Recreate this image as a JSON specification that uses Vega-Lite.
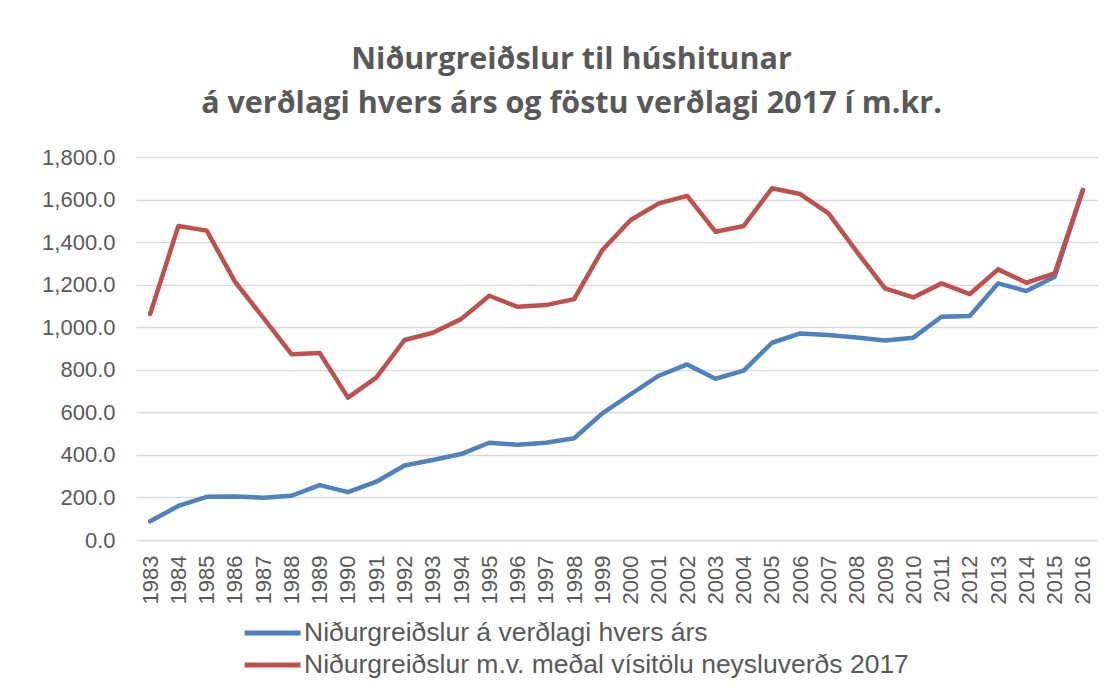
{
  "$schema": "https://vega.github.io/schema/vega-lite/v6.json",
  "autosize": {"type": "none"},
  "padding": {"left": 136, "top": 157, "right": 23, "bottom": 150},
  "width": 961,
  "height": 383,
  "background": "white",
  "title": {
    "text": ["Niðurgreiðslur til húshitunar", "á verðlagi hvers árs og föstu verðlagi 2017 í m.kr."],
    "font": "Open Sans",
    "fontSize": 30.5,
    "fontWeight": "bold",
    "color": "#595959",
    "lineHeight": 44,
    "anchor": "middle",
    "dx": -45,
    "offset": 27
  },
  "config": {
    "view": {"stroke": null},
    "axis": {"labelFont": "Liberation Sans", "labelColor": "#595959", "domain": false, "ticks": false}
  },
  "data": {"values": [
    {"year": "1983", "series": "Niðurgreiðslur á verðlagi hvers árs", "value": 88},
    {"year": "1984", "series": "Niðurgreiðslur á verðlagi hvers árs", "value": 160},
    {"year": "1985", "series": "Niðurgreiðslur á verðlagi hvers árs", "value": 203},
    {"year": "1986", "series": "Niðurgreiðslur á verðlagi hvers árs", "value": 205},
    {"year": "1987", "series": "Niðurgreiðslur á verðlagi hvers árs", "value": 199},
    {"year": "1988", "series": "Niðurgreiðslur á verðlagi hvers árs", "value": 208},
    {"year": "1989", "series": "Niðurgreiðslur á verðlagi hvers árs", "value": 258},
    {"year": "1990", "series": "Niðurgreiðslur á verðlagi hvers árs", "value": 225},
    {"year": "1991", "series": "Niðurgreiðslur á verðlagi hvers árs", "value": 274},
    {"year": "1992", "series": "Niðurgreiðslur á verðlagi hvers árs", "value": 350},
    {"year": "1993", "series": "Niðurgreiðslur á verðlagi hvers árs", "value": 376},
    {"year": "1994", "series": "Niðurgreiðslur á verðlagi hvers árs", "value": 404},
    {"year": "1995", "series": "Niðurgreiðslur á verðlagi hvers árs", "value": 457},
    {"year": "1996", "series": "Niðurgreiðslur á verðlagi hvers árs", "value": 448},
    {"year": "1997", "series": "Niðurgreiðslur á verðlagi hvers árs", "value": 457},
    {"year": "1998", "series": "Niðurgreiðslur á verðlagi hvers árs", "value": 478},
    {"year": "1999", "series": "Niðurgreiðslur á verðlagi hvers árs", "value": 595},
    {"year": "2000", "series": "Niðurgreiðslur á verðlagi hvers árs", "value": 685},
    {"year": "2001", "series": "Niðurgreiðslur á verðlagi hvers árs", "value": 772},
    {"year": "2002", "series": "Niðurgreiðslur á verðlagi hvers árs", "value": 825},
    {"year": "2003", "series": "Niðurgreiðslur á verðlagi hvers árs", "value": 758},
    {"year": "2004", "series": "Niðurgreiðslur á verðlagi hvers árs", "value": 796},
    {"year": "2005", "series": "Niðurgreiðslur á verðlagi hvers árs", "value": 927},
    {"year": "2006", "series": "Niðurgreiðslur á verðlagi hvers árs", "value": 971},
    {"year": "2007", "series": "Niðurgreiðslur á verðlagi hvers árs", "value": 963},
    {"year": "2008", "series": "Niðurgreiðslur á verðlagi hvers árs", "value": 952},
    {"year": "2009", "series": "Niðurgreiðslur á verðlagi hvers árs", "value": 938},
    {"year": "2010", "series": "Niðurgreiðslur á verðlagi hvers árs", "value": 951},
    {"year": "2011", "series": "Niðurgreiðslur á verðlagi hvers árs", "value": 1049},
    {"year": "2012", "series": "Niðurgreiðslur á verðlagi hvers árs", "value": 1053},
    {"year": "2013", "series": "Niðurgreiðslur á verðlagi hvers árs", "value": 1206},
    {"year": "2014", "series": "Niðurgreiðslur á verðlagi hvers árs", "value": 1170},
    {"year": "2015", "series": "Niðurgreiðslur á verðlagi hvers árs", "value": 1237},
    {"year": "2016", "series": "Niðurgreiðslur á verðlagi hvers árs", "value": 1645},
    {"year": "1983", "series": "Niðurgreiðslur m.v. meðal vísitölu neysluverðs 2017", "value": 1062},
    {"year": "1984", "series": "Niðurgreiðslur m.v. meðal vísitölu neysluverðs 2017", "value": 1476},
    {"year": "1985", "series": "Niðurgreiðslur m.v. meðal vísitölu neysluverðs 2017", "value": 1454},
    {"year": "1986", "series": "Niðurgreiðslur m.v. meðal vísitölu neysluverðs 2017", "value": 1214},
    {"year": "1987", "series": "Niðurgreiðslur m.v. meðal vísitölu neysluverðs 2017", "value": 1045},
    {"year": "1988", "series": "Niðurgreiðslur m.v. meðal vísitölu neysluverðs 2017", "value": 873},
    {"year": "1989", "series": "Niðurgreiðslur m.v. meðal vísitölu neysluverðs 2017", "value": 879},
    {"year": "1990", "series": "Niðurgreiðslur m.v. meðal vísitölu neysluverðs 2017", "value": 669},
    {"year": "1991", "series": "Niðurgreiðslur m.v. meðal vísitölu neysluverðs 2017", "value": 763},
    {"year": "1992", "series": "Niðurgreiðslur m.v. meðal vísitölu neysluverðs 2017", "value": 940},
    {"year": "1993", "series": "Niðurgreiðslur m.v. meðal vísitölu neysluverðs 2017", "value": 974},
    {"year": "1994", "series": "Niðurgreiðslur m.v. meðal vísitölu neysluverðs 2017", "value": 1038},
    {"year": "1995", "series": "Niðurgreiðslur m.v. meðal vísitölu neysluverðs 2017", "value": 1148},
    {"year": "1996", "series": "Niðurgreiðslur m.v. meðal vísitölu neysluverðs 2017", "value": 1096},
    {"year": "1997", "series": "Niðurgreiðslur m.v. meðal vísitölu neysluverðs 2017", "value": 1104},
    {"year": "1998", "series": "Niðurgreiðslur m.v. meðal vísitölu neysluverðs 2017", "value": 1132},
    {"year": "1999", "series": "Niðurgreiðslur m.v. meðal vísitölu neysluverðs 2017", "value": 1363},
    {"year": "2000", "series": "Niðurgreiðslur m.v. meðal vísitölu neysluverðs 2017", "value": 1504},
    {"year": "2001", "series": "Niðurgreiðslur m.v. meðal vísitölu neysluverðs 2017", "value": 1582},
    {"year": "2002", "series": "Niðurgreiðslur m.v. meðal vísitölu neysluverðs 2017", "value": 1617},
    {"year": "2003", "series": "Niðurgreiðslur m.v. meðal vísitölu neysluverðs 2017", "value": 1449},
    {"year": "2004", "series": "Niðurgreiðslur m.v. meðal vísitölu neysluverðs 2017", "value": 1476},
    {"year": "2005", "series": "Niðurgreiðslur m.v. meðal vísitölu neysluverðs 2017", "value": 1653},
    {"year": "2006", "series": "Niðurgreiðslur m.v. meðal vísitölu neysluverðs 2017", "value": 1626},
    {"year": "2007", "series": "Niðurgreiðslur m.v. meðal vísitölu neysluverðs 2017", "value": 1535},
    {"year": "2008", "series": "Niðurgreiðslur m.v. meðal vísitölu neysluverðs 2017", "value": 1355},
    {"year": "2009", "series": "Niðurgreiðslur m.v. meðal vísitölu neysluverðs 2017", "value": 1183},
    {"year": "2010", "series": "Niðurgreiðslur m.v. meðal vísitölu neysluverðs 2017", "value": 1140},
    {"year": "2011", "series": "Niðurgreiðslur m.v. meðal vísitölu neysluverðs 2017", "value": 1206},
    {"year": "2012", "series": "Niðurgreiðslur m.v. meðal vísitölu neysluverðs 2017", "value": 1156},
    {"year": "2013", "series": "Niðurgreiðslur m.v. meðal vísitölu neysluverðs 2017", "value": 1272},
    {"year": "2014", "series": "Niðurgreiðslur m.v. meðal vísitölu neysluverðs 2017", "value": 1209},
    {"year": "2015", "series": "Niðurgreiðslur m.v. meðal vísitölu neysluverðs 2017", "value": 1253},
    {"year": "2016", "series": "Niðurgreiðslur m.v. meðal vísitölu neysluverðs 2017", "value": 1645}
  ]},
  "mark": {"type": "line", "strokeWidth": 4.5, "strokeJoin": "round", "strokeCap": "round"},
  "encoding": {
    "x": {
      "field": "year", "type": "ordinal",
      "scale": {"type": "point", "padding": 0.5},
      "axis": {"title": null, "labelAngle": -90, "labelFontSize": 22, "labelPadding": 15, "grid": false, "labelAlign": "right", "labelBaseline": "middle"}
    },
    "y": {
      "field": "value", "type": "quantitative",
      "scale": {"domain": [0, 1800], "nice": false},
      "axis": {"title": null, "values": [0, 200, 400, 600, 800, 1000, 1200, 1400, 1600, 1800], "format": ",.1f", "labelFontSize": 22, "labelPadding": 21, "gridColor": "#d9d9d9", "gridWidth": 1.3}
    },
    "color": {
      "field": "series", "type": "nominal",
      "scale": {"domain": ["Niðurgreiðslur á verðlagi hvers árs", "Niðurgreiðslur m.v. meðal vísitölu neysluverðs 2017"], "range": ["#4f81bd", "#c0504d"]},
      "legend": {
        "title": null, "orient": "none", "legendX": 106, "legendY": 460,
        "symbolType": "stroke", "symbolSize": 3136, "symbolStrokeWidth": 5,
        "labelFont": "Liberation Sans", "labelFontSize": 26.5, "labelColor": "#595959",
        "labelOffset": 1, "rowPadding": 0, "clipHeight": 32, "padding": 0, "labelLimit": 1000
      }
    }
  }
}
